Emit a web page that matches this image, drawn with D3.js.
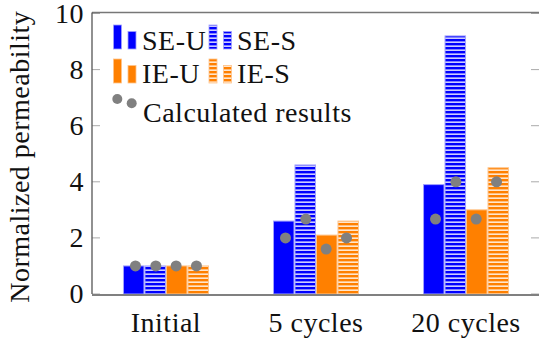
<!DOCTYPE html>
<html>
<head>
  <meta charset=utf-8 />
  <title>Normalized permeability</title>
</head>
<body style="margin:0; background:#fff;">
  <div id="container"></div>
  <script src="https://d3js.org/d3.v7.min.js"></script>
  <script>

// data
var categories = ["Initial", "5 cycles", "20 cycles"];
var series = ["SE-U", "SE-S", "IE-U", "IE-S"];
var seU = [1, 2.6, 3.9];
var seS = [1, 4.6, 9.2];
var ieU = [1, 2.1, 3.0];
var ieS = [1, 2.6, 4.5];
// calculated results (grey dots)
var seUCalc = [1, 2.0, 2.67];
var seSCalc = [1, 2.67, 4.0];
var ieUCalc = [1, 1.6, 2.67];
var ieSCalc = [1, 2.0, 4.0];
var yTicks = [0, 2, 4, 6, 8, 10];

var bars = [seU, seS, ieU, ieS];
var calcs = [seUCalc, seSCalc, ieUCalc, ieSCalc];

var w = 539, h = 341;
var mLeft = 92, mRight = 540, mTop = 13.5, mBottom = 294;

var svg = d3.select("#container").append("svg")
  .attr("width", w)
  .attr("height", h);

// all labels go through this so the font is set inline
function label(sel) {
  return sel.append("text")
    .style("font-family", "'Liberation Serif', 'Times New Roman', serif")
    .style("font-size", "28px")
    .style("letter-spacing", "0.5px")
    .style("fill", "#111");
}

var defs = svg.append("defs");
function hatch(id, color) {
  var p = defs.append("pattern")
    .attr("id", id)
    .attr("patternUnits", "userSpaceOnUse")
    .attr("width", 4)
    .attr("height", 4);
  p.append("rect").attr("width", 4).attr("height", 4).attr("fill", color);
  p.append("rect").attr("y", 1.5).attr("width", 4).attr("height", 1.3).attr("fill", "#fff");
}
hatch("hatchBlue", "#0000ff");
hatch("hatchOrange", "#ff8000");

var fills = ["#0000ff", "url(#hatchBlue)", "#ff8000", "url(#hatchOrange)"];
var strokes = ["#a0a0ff", "#a0a0ff", "#ffc48a", "#ffc48a"];

var x = d3.scalePoint().domain(categories).range([mLeft, mRight]).padding(0.493);
var xs = d3.scaleBand().domain(series).range([-43, 43]);
var xd = d3.scalePoint().domain(series).range([-30.5, 30.5]);
var y = d3.scaleLinear().domain([0, 10]).range([mBottom, mTop]);

// ticks inside the box, both sides
var g = svg.append("g");
yTicks.forEach(function(t) {
  g.append("line")
    .attr("x1", mLeft).attr("x2", mLeft + 8)
    .attr("y1", y(t)).attr("y2", y(t))
    .attr("stroke", "#aaa").attr("stroke-width", 1);
  g.append("line")
    .attr("x1", mRight - 9).attr("x2", mRight)
    .attr("y1", y(t)).attr("y2", y(t))
    .attr("stroke", "#aaa").attr("stroke-width", 1);
  label(g)
    .attr("x", 84)
    .attr("y", y(t))
    .attr("dy", "0.33em")
    .attr("text-anchor", "end")
    .text(t);
});

// bars
series.forEach(function(s, i) {
  svg.append("g").selectAll("rect")
    .data(bars[i])
    .enter().append("rect")
    .attr("x", function(d, j) { return x(categories[j]) + xs(s) + 0.5; })
    .attr("y", function(d) { return y(d); })
    .attr("width", xs.bandwidth() - 1)
    .attr("height", function(d) { return y(0) - y(d); })
    .attr("fill", fills[i])
    .attr("stroke", strokes[i])
    .attr("stroke-width", 1);
});

// calculated dots
series.forEach(function(s, i) {
  svg.append("g").selectAll("circle")
    .data(calcs[i])
    .enter().append("circle")
    .attr("cx", function(d, j) { return x(categories[j]) + xd(s); })
    .attr("cy", function(d) { return y(d); })
    .attr("r", 5.5)
    .attr("fill", "#808080");
});

// frame
svg.append("line").attr("x1", mLeft).attr("x2", mRight).attr("y1", mTop - 1).attr("y2", mTop - 1)
  .attr("stroke", "#777").attr("stroke-width", 1.5);
svg.append("line").attr("x1", mLeft).attr("x2", mLeft).attr("y1", mTop - 1).attr("y2", mBottom)
  .attr("stroke", "#555").attr("stroke-width", 1.3);
svg.append("line").attr("x1", mLeft).attr("x2", mRight).attr("y1", mBottom + 1).attr("y2", mBottom + 1)
  .attr("stroke", "#808080").attr("stroke-width", 2);

// category labels
categories.forEach(function(c) {
  label(svg)
    .attr("x", x(c))
    .attr("y", 332)
    .attr("text-anchor", "middle")
    .text(c);
});

// y label
label(svg)
  .attr("transform", "translate(29," + ((mTop + mBottom) / 2 + 3) + ") rotate(-90)")
  .attr("text-anchor", "middle")
  .text("Normalized permeability");

// legend
var leg = svg.append("g");
function legBars(x0, base, i) {
  leg.append("rect").attr("x", x0).attr("y", base - 24).attr("width", 8).attr("height", 24)
    .attr("fill", fills[i]).attr("stroke", strokes[i]).attr("stroke-width", 0.8);
  leg.append("rect").attr("x", x0 + 14.5).attr("y", base - 17.5).attr("width", 8).attr("height", 17.5)
    .attr("fill", fills[i]).attr("stroke", strokes[i]).attr("stroke-width", 0.8);
}
legBars(113.5, 49, 0);
legBars(209, 49, 1);
legBars(113.5, 83, 2);
legBars(209, 83, 3);
label(leg).attr("x", 142).attr("y", 50).text(series[0]);
label(leg).attr("x", 237).attr("y", 50).text(series[1]);
label(leg).attr("x", 142).attr("y", 83).text(series[2]);
label(leg).attr("x", 237).attr("y", 83).text(series[3]);
leg.append("circle").attr("cx", 117.3).attr("cy", 99).attr("r", 5).attr("fill", "#808080");
leg.append("circle").attr("cx", 131.7).attr("cy", 103.3).attr("r", 5).attr("fill", "#808080");
label(leg).attr("x", 143).attr("y", 122).text("Calculated results");

  </script>
</body>
</html>
